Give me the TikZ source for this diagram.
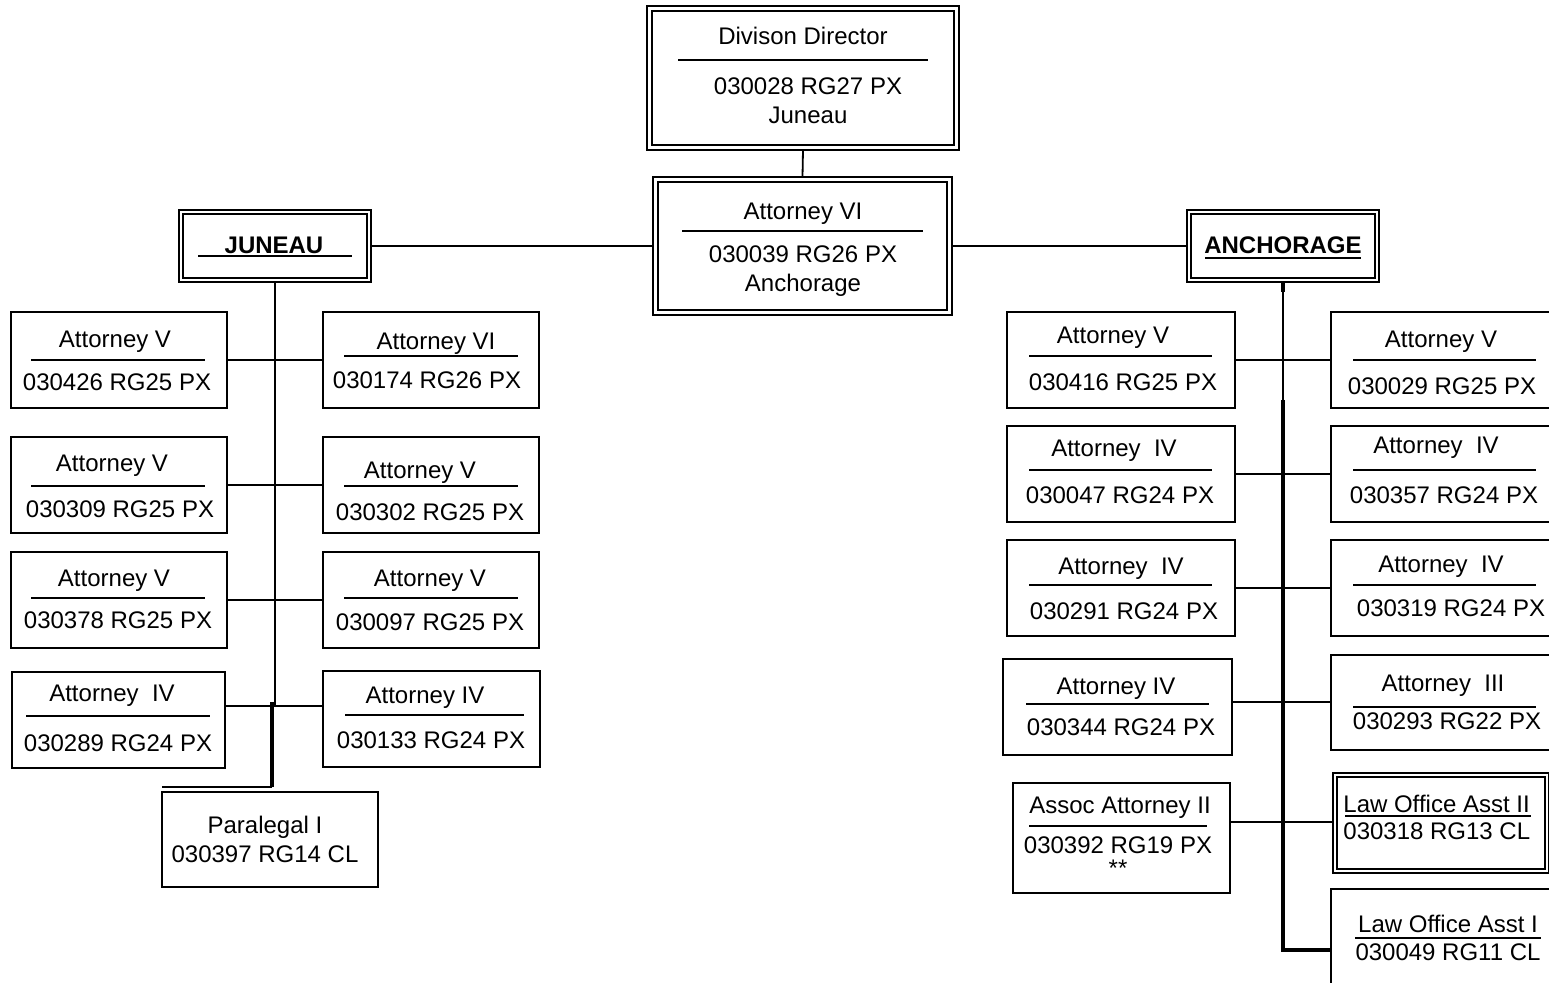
\documentclass[tikz,border=0pt]{standalone}
\usepackage{fontspec}
\setmainfont{Liberation Sans}
\tikzset{
 box/.style={draw, line width=0.9pt, inner sep=0pt, outer sep=0pt, rectangle},
 txt/.style={font=\fontsize{12}{14}\selectfont, inner sep=0pt, anchor=base, yshift=-4.3pt},
 btxt/.style={txt, font=\fontsize{12}{14}\selectfont\bfseries},
 ltxt/.style={txt, anchor=base west},
 rule/.style={line width=0.8pt},
 dline/.style={line width=1pt},
 conn/.style={line width=0.9pt},
 trunk/.style={line width=1.6pt},
}
\newcommand{\ob}[6][box]{\node[#1, minimum width={(#5-#3)*0.5pt}, minimum height={(#6-#4)*0.5pt}] (#2) at ({(#3+#5)/2},{(#4+#6)/2}) {};}
\newcommand{\dbl}[2]{\draw[dline] ([shift={(#2,#2)}]#1.north west) rectangle ([shift={(-#2,-#2)}]#1.south east);}
\newcommand{\rl}[3]{\draw[rule] (#2,#1) -- (#3,#1);}
\begin{document}
\begin{tikzpicture}[x=0.5pt,y=-0.5pt]
\useasboundingbox (0,0) rectangle (1549,983);
\clip (0,0) rectangle (1549,983);
% top boxes
\ob[box,dline]{dir}{647}{6}{959}{150}
\dbl{dir}{5}
\node[txt] (dir-t) at (803,36) {Divison Director};
\rl{60}{678}{928}
\node[txt] (dir-c) at (808,86) {030028 RG27 PX};
\node[txt] (dir-l) at (808,115) {Juneau};

\ob[box,dline]{att}{653}{177}{952}{315}
\dbl{att}{5}
\node[txt] (att-t) at (803,211) {Attorney VI};
\rl{231}{682}{923}
\node[txt] (att-c) at (803,254) {030039 RG26 PX};
\node[txt] (att-l) at (803,283) {Anchorage};

\ob[box,dline]{jun}{179}{210}{371}{282}
\dbl{jun}{4}
\node[btxt] (jun-t) at (274,245) {JUNEAU};
\rl{256}{198}{352}

\ob[box,dline]{anc}{1187}{210}{1379}{282}
\dbl{anc}{4}
\node[btxt] (anc-t) at (1283,245) {ANCHORAGE};
\rl{258}{1205}{1361}

% Juneau left column
\ob{l1}{11}{312}{227}{408}
\node[txt] (l1-t) at (115,339) {Attorney V};
\rl{360}{31}{205}
\node[txt] (l1-c) at (117,382) {030426 RG25 PX};

\ob{l2}{11}{437}{227}{533}
\node[txt] (l2-t) at (112,463) {Attorney V};
\rl{486}{31}{205}
\node[txt] (l2-c) at (120,509) {030309 RG25 PX};

\ob{l3}{11}{552}{227}{648}
\node[txt] (l3-t) at (114,578) {Attorney V};
\rl{598}{31}{205}
\node[txt] (l3-c) at (118,620) {030378 RG25 PX};

\ob{l4}{12}{672}{225}{768}
\node[txt] (l4-t) at (112,693) {Attorney\ \ IV};
\rl{716}{26}{210}
\node[txt] (l4-c) at (118,743) {030289 RG24 PX};

% Juneau right column
\ob{r1}{323}{312}{539}{408}
\node[txt] (r1-t) at (436,341) {Attorney VI};
\rl{356}{344}{518}
\node[txt] (r1-c) at (427,380) {030174 RG26 PX};

\ob{r2}{323}{437}{539}{533}
\node[txt] (r2-t) at (420,470) {Attorney V};
\rl{486}{344}{518}
\node[txt] (r2-c) at (430,512) {030302 RG25 PX};

\ob{r3}{323}{552}{539}{648}
\node[txt] (r3-t) at (430,578) {Attorney V};
\rl{598}{344}{518}
\node[txt] (r3-c) at (430,622) {030097 RG25 PX};

\ob{r4}{323}{671}{540}{767}
\node[txt] (r4-t) at (425,695) {Attorney IV};
\rl{715}{345}{524}
\node[txt] (r4-c) at (431,740) {030133 RG24 PX};

\ob{par}{162}{792}{378}{887}
\node[txt] (par-t) at (265,825) {Paralegal I};
\node[txt] (par-c) at (265,854) {030397 RG14 CL};

% Anchorage left column
\ob{al1}{1007}{312}{1235}{408}
\node[txt] (al1-t) at (1113,335) {Attorney V};
\rl{356}{1029}{1212}
\node[txt] (al1-c) at (1123,382) {030416 RG25 PX};

\ob{al2}{1007}{426}{1235}{522}
\node[txt] (al2-t) at (1114,448) {Attorney\ \ IV};
\rl{470}{1029}{1212}
\node[txt] (al2-c) at (1120,495) {030047 RG24 PX};

\ob{al3}{1007}{540}{1235}{636}
\node[txt] (al3-t) at (1121,566) {Attorney\ \ IV};
\rl{585}{1029}{1212}
\node[txt] (al3-c) at (1124,611) {030291 RG24 PX};

\ob{al4}{1003}{659}{1232}{755}
\node[txt] (al4-t) at (1116,686) {Attorney IV};
\rl{704}{1026}{1209}
\node[txt] (al4-c) at (1121,727) {030344 RG24 PX};

\ob{al5}{1013}{783}{1230}{893}
\node[txt] (al5-t) at (1120,805) {Assoc Attorney II};
\rl{826}{1029}{1207}
\node[txt] (al5-c) at (1118,845) {030392 RG19 PX};
\node[txt] (al5-s) at (1118,868) {**};

% Anchorage right column
\ob{ar1}{1331}{312}{1555}{408}
\node[txt] (ar1-t) at (1441,339) {Attorney V};
\rl{360}{1353}{1536}
\node[txt] (ar1-c) at (1442,386) {030029 RG25 PX};

\ob{ar2}{1331}{426}{1555}{522}
\node[txt] (ar2-t) at (1436,445) {Attorney\ \ IV};
\rl{470}{1353}{1536}
\node[txt] (ar2-c) at (1444,495) {030357 RG24 PX};

\ob{ar3}{1331}{540}{1555}{636}
\node[txt] (ar3-t) at (1441,564) {Attorney\ \ IV};
\rl{585}{1353}{1536}
\node[txt] (ar3-c) at (1451,608) {030319 RG24 PX};

\ob{ar4}{1331}{655}{1555}{750}
\node[txt] (ar4-t) at (1443,683) {Attorney\ \ III};
\rl{707}{1353}{1536}
\node[txt] (ar4-c) at (1447,721) {030293 RG22 PX};

\ob[box,dline]{ar5}{1333}{773}{1549}{873}
\dbl{ar5}{4}
\node[ltxt] (ar5-t) at (1343,804) {Law Office Asst II};
\rl{816}{1345}{1531}
\node[ltxt] (ar5-c) at (1343,831) {030318 RG13 CL};

\ob{ar6}{1331}{889}{1555}{1000}
\node[txt] (ar6-t) at (1448,924) {Law Office Asst I};
\rl{938}{1355}{1541}
\node[txt] (ar6-c) at (1448,952) {030049 RG11 CL};

% connectors
\draw[conn] (dir.south) -- (att.north);
\draw[conn] (jun.east) -- (att.west);
\draw[conn] (att.east) -- (anc.west);

\coordinate (jt) at (275,706);
\draw[conn] (jun.south) -- (jt);
\draw[conn] (l1.east) -- (r1.west);
\draw[conn] (l2.east) -- (r2.west);
\draw[conn] (l3.east) -- (r3.west);
\draw[conn] (l4.east |- jt) -- (r4.west |- jt);
\coordinate (pk1) at (272,702);
\coordinate (pk2) at (272,787);
\coordinate (pk3) at (162,787);
\draw[trunk] (pk1) -- (pk2);
\draw[conn,line width=1.1pt] (pk2) -- (pk3);

\coordinate (at0) at (1283,292);
\coordinate (at1) at (1283,400);
\coordinate (at2) at (1283,950);
\draw[trunk] (anc.south) -- (at0);
\draw[conn] (at0) -- (at1);
\draw[trunk] (at1) -- (at2) -- (ar6.west |- at2);
\draw[conn] (al1.east) -- (ar1.west);
\draw[conn] (al2.east) -- (ar2.west);
\draw[conn] (al3.east) -- (ar3.west);
\coordinate (c4) at (1283,702);
\draw[conn] (al4.east |- c4) -- (ar4.west |- c4);
\coordinate (c5) at (1283,822);
\draw[conn] (al5.east |- c5) -- (ar5.west |- c5);
\end{tikzpicture}
\end{document}
